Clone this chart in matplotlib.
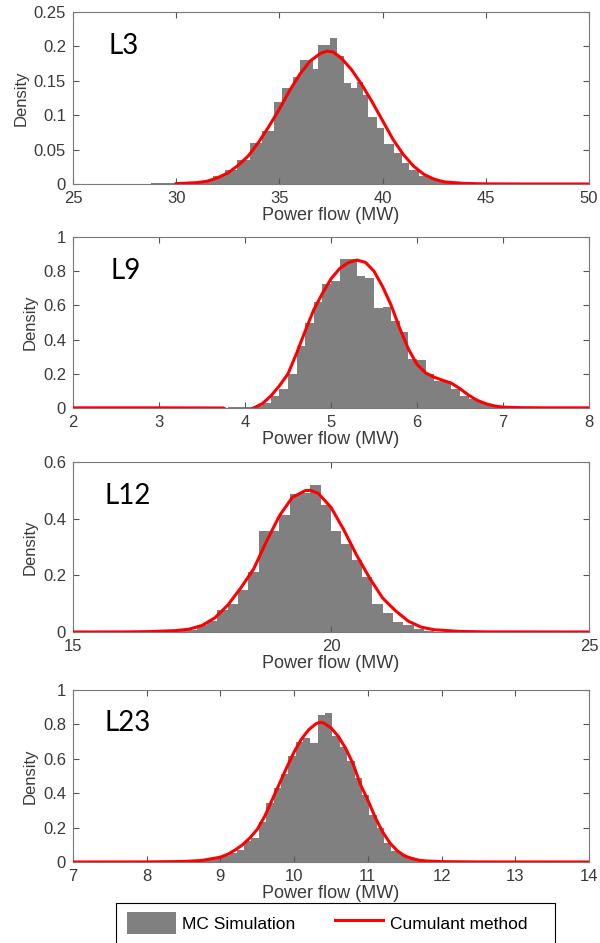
import matplotlib.pyplot as plt
import numpy as np
from matplotlib.lines import Line2D
from matplotlib.patches import Patch, Rectangle
from matplotlib.ticker import FuncFormatter

plt.rcParams['font.family'] = ['Liberation Sans', 'DejaVu Sans']

# ---- L3 ----
l3_edges = [28.8, 30.2, 30.6, 31.15, 31.77, 32.36, 32.96, 33.58, 34.17, 34.74, 35.11,
            35.67, 36.0, 36.64, 36.88, 37.45, 37.81, 38.13, 38.45, 38.74, 39.07, 39.31,
            39.72, 40.09, 40.56, 40.93, 41.3, 41.76, 42.2, 42.6, 43.05, 43.5]
l3_density = [0.001, 0.002, 0.002, 0.004, 0.011, 0.020, 0.035, 0.059, 0.077, 0.119, 0.140,
              0.156, 0.180, 0.167, 0.202, 0.212, 0.186, 0.147, 0.140, 0.148, 0.130, 0.098,
              0.081, 0.058, 0.045, 0.030, 0.020, 0.011, 0.009, 0.004, 0.002]
l3_curve_x = [30, 31, 31.5, 32, 32.5, 33, 33.5, 34, 34.5, 35, 35.5, 36, 36.5, 37, 37.3, 37.6,
              38, 38.5, 39, 39.5, 40, 40.5, 41, 41.5, 42, 42.5, 43, 44, 45, 47, 50]
l3_curve_y = [0.0005, 0.002, 0.004, 0.009, 0.016, 0.027, 0.041, 0.061, 0.084, 0.109, 0.136,
              0.160, 0.179, 0.190, 0.193, 0.192, 0.183, 0.166, 0.144, 0.119, 0.092, 0.065,
              0.043, 0.026, 0.014, 0.007, 0.003, 0.0008, 0.0002, 0, 0]

# ---- L9 ----
l9_start, l9_width = 3.8, 0.1
l9_density = [0.004, 0.004, 0.006, 0.012, 0.03, 0.07, 0.11, 0.20, 0.36, 0.50, 0.62, 0.725,
              0.745, 0.87, 0.87, 0.77, 0.76, 0.585, 0.59, 0.51, 0.445, 0.288, 0.283, 0.20,
              0.16, 0.155, 0.113, 0.073, 0.055, 0.035, 0.025, 0.013, 0.01, 0.01, 0.003]
l9_curve_x = [2, 3, 3.75, 3.8, 4.05, 4.1, 4.2, 4.3, 4.4, 4.5, 4.6, 4.7, 4.8, 4.9, 5.0, 5.1,
              5.2, 5.3, 5.4, 5.5, 5.6, 5.7, 5.8, 5.9, 6.0, 6.1, 6.2, 6.3, 6.4, 6.5, 6.6, 6.7,
              6.8, 6.9, 7.0, 7.2, 7.5, 8]
l9_curve_y = [0.001, 0.001, 0.0, -0.015, -0.015, 0.0, 0.025, 0.07, 0.13, 0.20, 0.32, 0.45,
              0.575, 0.67, 0.755, 0.815, 0.85, 0.865, 0.852, 0.80, 0.71, 0.60, 0.465, 0.345,
              0.255, 0.205, 0.18, 0.162, 0.145, 0.113, 0.075, 0.045, 0.025, 0.012, 0.005,
              0.002, 0.001, 0.001]

# ---- L12 ----
l12_start, l12_width = 17.0, 0.2
l12_density = [0.003, 0.008, 0.025, 0.04, 0.077, 0.10, 0.148, 0.212, 0.357, 0.357, 0.413,
               0.488, 0.49, 0.518, 0.447, 0.357, 0.31, 0.255, 0.195, 0.099, 0.066, 0.037,
               0.023, 0.012, 0.005]
l12_curve_x = [15, 16, 16.5, 17, 17.25, 17.5, 17.75, 18, 18.25, 18.5, 18.75, 19, 19.25, 19.5,
               19.6, 19.75, 20, 20.25, 20.5, 20.75, 21, 21.25, 21.5, 21.75, 22, 22.5, 23, 25]
l12_curve_y = [0, 0.0003, 0.0015, 0.005, 0.01, 0.023, 0.05, 0.095, 0.155, 0.222, 0.32, 0.41,
               0.475, 0.499, 0.50, 0.49, 0.44, 0.36, 0.27, 0.19, 0.12, 0.075, 0.038, 0.017,
               0.008, 0.002, 0.0005, 0]

# ---- L23 ----
l23_start, l23_width = 8.62, 0.1
l23_density = [0.004, 0.008, 0.015, 0.022, 0.036, 0.055, 0.07, 0.125, 0.14, 0.23, 0.345,
               0.432, 0.51, 0.615, 0.70, 0.72, 0.69, 0.852, 0.868, 0.73, 0.67, 0.59, 0.49,
               0.39, 0.275, 0.20, 0.11, 0.065, 0.045, 0.03, 0.015, 0.012, 0.007, 0.004,
               0.002, 0.002]
l23_curve_x = [7, 8, 8.5, 8.75, 9.0, 9.1, 9.2, 9.3, 9.4, 9.5, 9.6, 9.7, 9.8, 9.9, 10.0, 10.1,
               10.2, 10.3, 10.35, 10.4, 10.5, 10.6, 10.7, 10.8, 10.9, 11.0, 11.1, 11.2, 11.3,
               11.4, 11.5, 11.6, 11.7, 11.8, 12.0, 12.5, 14]
l23_curve_y = [0, 0.0005, 0.003, 0.009, 0.028, 0.045, 0.07, 0.10, 0.14, 0.19, 0.265, 0.36,
               0.455, 0.55, 0.64, 0.715, 0.77, 0.805, 0.812, 0.808, 0.78, 0.73, 0.66, 0.57,
               0.45, 0.36, 0.26, 0.175, 0.11, 0.065, 0.035, 0.02, 0.01, 0.006, 0.002, 0.0005, 0]


def uniform_edges(start, width, n):
    return start + width * np.arange(n + 1)


panels = [
    dict(name="L3", edges=l3_edges, dens=l3_density, cx=l3_curve_x, cy=l3_curve_y,
         xlim=(25, 50), xticks=np.arange(25, 51, 5), ylim=(0, 0.25),
         yticks=np.arange(0, 0.26, 0.05), box=(12, 184), lab=(0.068, 0.80)),
    dict(name="L9", edges=uniform_edges(l9_start, l9_width, len(l9_density)), dens=l9_density,
         cx=l9_curve_x, cy=l9_curve_y, xlim=(2, 8), xticks=np.arange(2, 9, 1), ylim=(0, 1),
         yticks=np.arange(0, 1.01, 0.2), box=(237, 408), lab=(0.072, 0.80)),
    dict(name="L12", edges=uniform_edges(l12_start, l12_width, len(l12_density)),
         dens=l12_density, cx=l12_curve_x, cy=l12_curve_y, xlim=(15, 25), xticks=[15, 20, 25],
         ylim=(0, 0.6), yticks=np.arange(0, 0.61, 0.2), box=(462, 632), lab=(0.062, 0.80)),
    dict(name="L23", edges=uniform_edges(l23_start, l23_width, len(l23_density)),
         dens=l23_density, cx=l23_curve_x, cy=l23_curve_y, xlim=(7, 14),
         xticks=np.arange(7, 15, 1), ylim=(0, 1), yticks=np.arange(0, 1.01, 0.2),
         box=(690, 862), lab=(0.062, 0.81)),
]

W, H = 600, 943
LEFT, RIGHT = 73, 589
GRAY = "#808080"
fmt = FuncFormatter(lambda v, p: f"{v:g}")

fig = plt.figure(figsize=(W / 100, H / 100), dpi=100)

for p in panels:
    top, bottom = p["box"]
    ax = fig.add_axes([LEFT / W, 1 - bottom / H, (RIGHT - LEFT) / W, (bottom - top) / H])
    ax.stairs(p["dens"], p["edges"], fill=True, color=GRAY, linewidth=0)
    ax.plot(p["cx"], p["cy"], color="#ff0000", lw=2.2, zorder=3)
    ax.set_xlim(*p["xlim"])
    ax.set_ylim(*p["ylim"])
    ax.set_xticks(p["xticks"])
    ax.set_yticks(p["yticks"])
    ax.xaxis.set_major_formatter(fmt)
    ax.yaxis.set_major_formatter(fmt)
    ax.tick_params(direction="in", top=True, right=True, length=4, width=0.8,
                   color="#555555", labelsize=12, labelcolor="#3a3a3a")
    ax.tick_params(axis="x", pad=5)
    ax.tick_params(axis="y", pad=5)
    for s in ax.spines.values():
        s.set_color("#7a7a7a")
        s.set_linewidth(0.8)
    ax.set_xlabel("Power flow (MW)", fontsize=13, color="#3a3a3a", labelpad=1)
    ax.set_ylabel("Density", fontsize=12, color="#3a3a3a", labelpad=4)
    ax.text(p["lab"][0], p["lab"][1], p["name"], transform=ax.transAxes, fontsize=20,
            family=["Lato", "DejaVu Sans"], ha="left", va="center", color="black")

handles = [Patch(facecolor=GRAY, edgecolor="none", label="MC Simulation"),
           Line2D([], [], color="#ff0000", lw=2.2, label="Cumulant method")]
fig.legend(handles=handles, loc="center left", bbox_to_anchor=(120 / W, 1 - 923 / H),
           ncol=2, frameon=False, fontsize=12.5, handlelength=2.8, handleheight=1.6,
           handletextpad=0.35, columnspacing=2.3, borderaxespad=0, borderpad=0.4)
fig.patches.append(Rectangle((116 / W, 1 - 952 / H), (555 - 116) / W, (952 - 903) / H,
                             transform=fig.transFigure, fill=False, edgecolor="black",
                             lw=0.8))

fig.savefig("out.png", dpi=100)
